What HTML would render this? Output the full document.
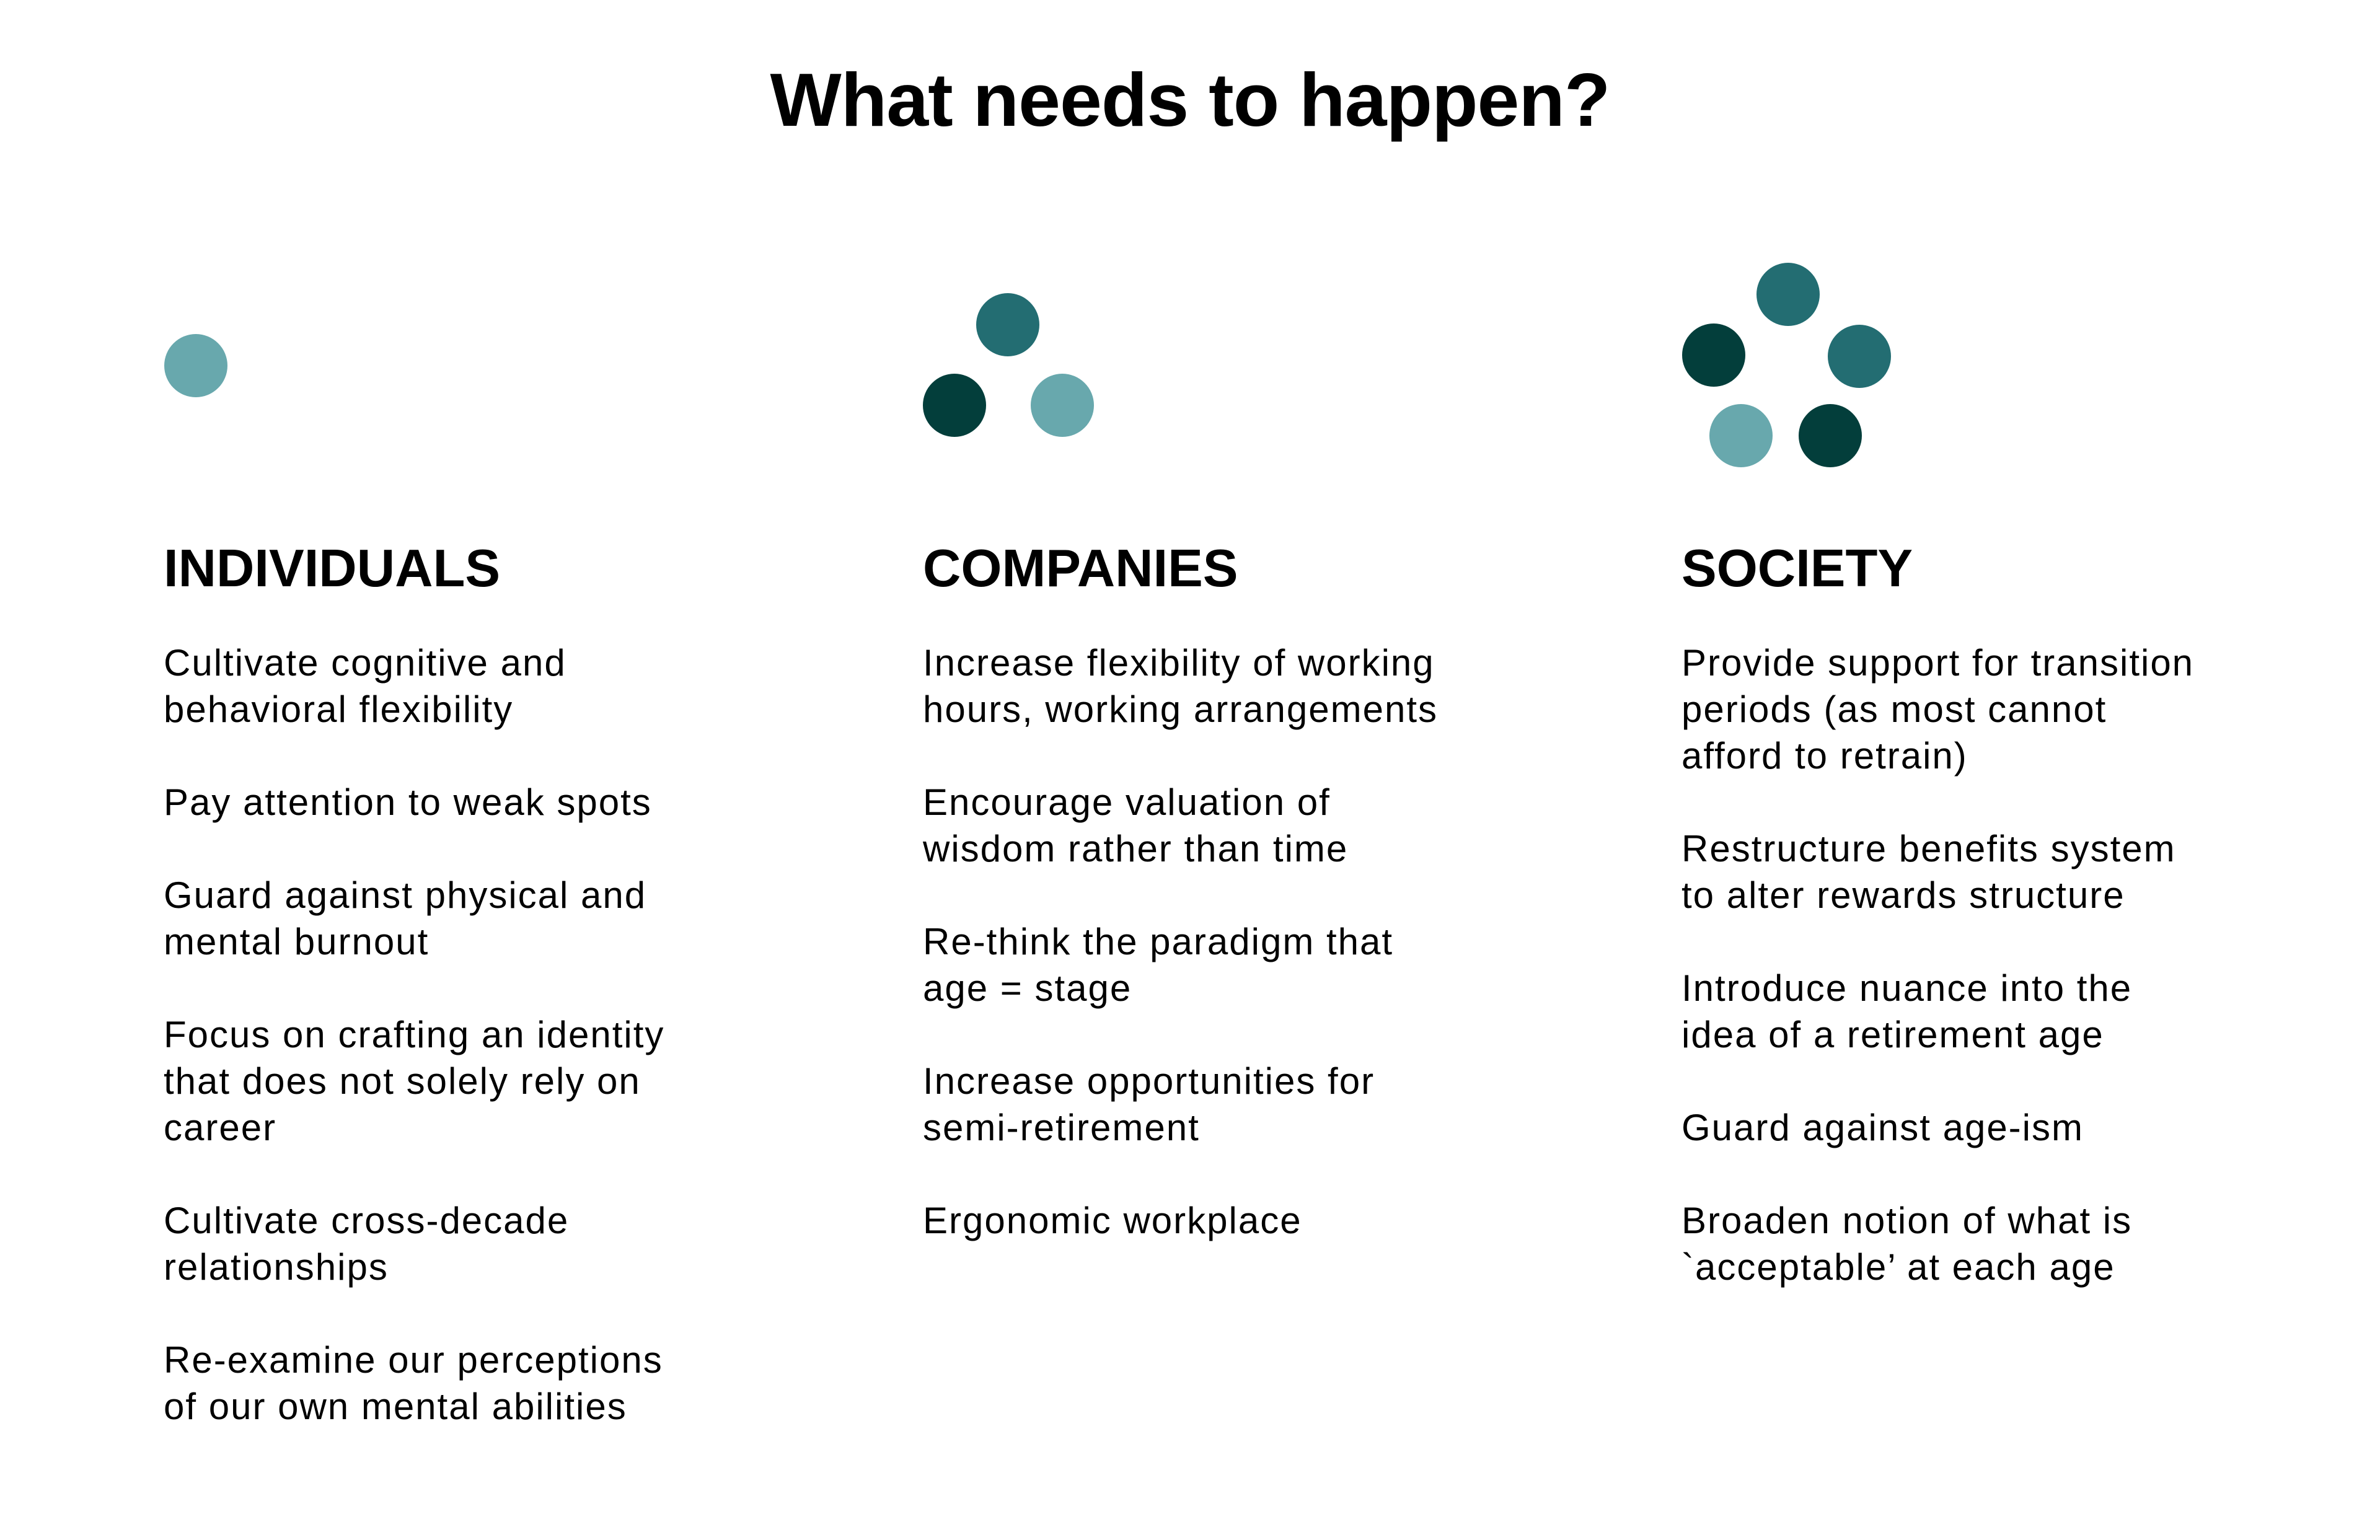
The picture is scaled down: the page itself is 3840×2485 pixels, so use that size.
<!DOCTYPE html>
<html><head><meta charset="utf-8"><style>
html,body{margin:0;padding:0;background:#fff;}
body{width:3840px;height:2485px;position:relative;overflow:hidden;font-family:"Liberation Sans",sans-serif;color:#000;}
.t{position:absolute;left:0;width:3840px;text-align:center;top:100px;font-size:122px;line-height:1;font-weight:bold;letter-spacing:-1px;}
.h{position:absolute;top:875px;font-size:85px;line-height:1;font-weight:bold;letter-spacing:0px;}
.c{position:absolute;top:1032px;font-size:60px;line-height:75px;letter-spacing:2px;}
.c p{margin:0 0 75px 0;}
.d{position:absolute;width:102px;height:102px;border-radius:50%;}
.l{background:#68a8ad}.m{background:#236d72}.k{background:#033e3b}
</style></head><body>
<div class="t">What needs to happen?</div>

<div class="d l" style="left:265px;top:539px"></div>

<div class="d m" style="left:1575px;top:473px"></div>
<div class="d k" style="left:1489px;top:603px"></div>
<div class="d l" style="left:1663px;top:603px"></div>

<div class="d m" style="left:2834px;top:424px"></div>
<div class="d k" style="left:2714px;top:522px"></div>
<div class="d m" style="left:2949px;top:524px"></div>
<div class="d l" style="left:2758px;top:652px"></div>
<div class="d k" style="left:2902px;top:652px"></div>

<div class="h" style="left:264px">INDIVIDUALS</div>
<div class="h" style="left:1489px">COMPANIES</div>
<div class="h" style="left:2713px">SOCIETY</div>

<div class="c" style="left:264px">
<p>Cultivate cognitive and<br>behavioral flexibility</p>
<p>Pay attention to weak spots</p>
<p>Guard against physical and<br>mental burnout</p>
<p>Focus on crafting an identity<br>that does not solely rely on<br>career</p>
<p>Cultivate cross-decade<br>relationships</p>
<p>Re-examine our perceptions<br>of our own mental abilities</p>
</div>

<div class="c" style="left:1489px">
<p>Increase flexibility of working<br>hours, working arrangements</p>
<p>Encourage valuation of<br>wisdom rather than time</p>
<p>Re-think the paradigm that<br>age = stage</p>
<p>Increase opportunities for<br>semi-retirement</p>
<p>Ergonomic workplace</p>
</div>

<div class="c" style="left:2713px">
<p>Provide support for transition<br>periods (as most cannot<br>afford to retrain)</p>
<p>Restructure benefits system<br>to alter rewards structure</p>
<p>Introduce nuance into the<br>idea of a retirement age</p>
<p>Guard against age-ism</p>
<p>Broaden notion of what is<br>`acceptable’ at each age</p>
</div>
</body></html>
